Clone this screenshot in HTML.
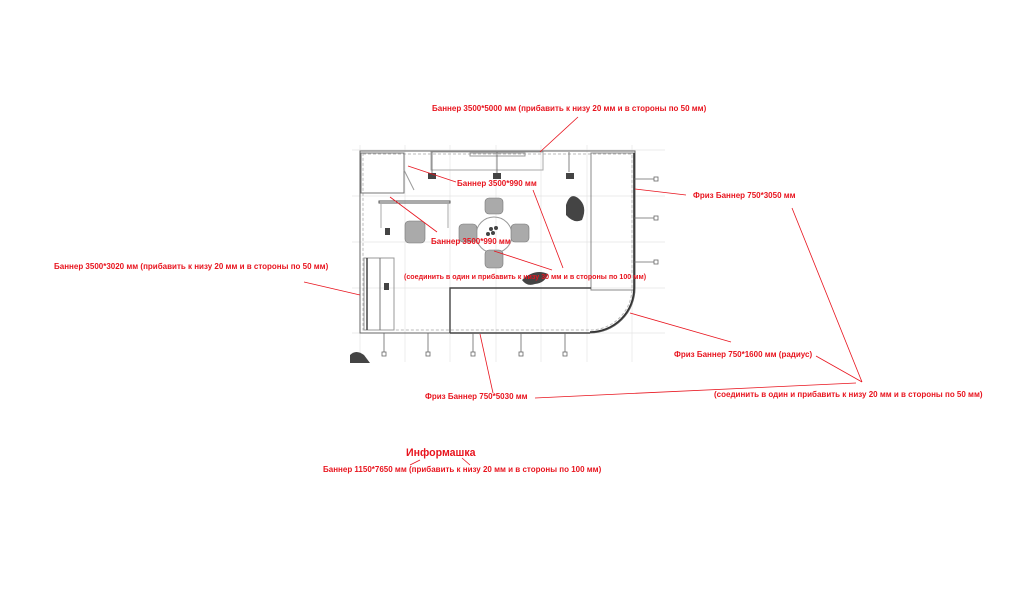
<!DOCTYPE html>
<html><head><meta charset="utf-8"><style>
html,body{margin:0;padding:0;background:#fff;width:1024px;height:614px;overflow:hidden}
svg{display:block}
.t{font-family:"Liberation Sans","DejaVu Sans",sans-serif;font-weight:bold;font-size:8px;fill:#e8141e}
</style></head><body>
<svg width="1024" height="614" viewBox="0 0 1024 614" xmlns="http://www.w3.org/2000/svg">
<g stroke="#e4e4e4" stroke-width="0.7">
<line x1="352" y1="150" x2="665" y2="150"/><line x1="352" y1="196" x2="665" y2="196"/>
<line x1="352" y1="242" x2="665" y2="242"/><line x1="352" y1="288" x2="665" y2="288"/>
<line x1="352" y1="333" x2="665" y2="333"/>
<line x1="360" y1="145" x2="360" y2="362"/><line x1="405" y1="145" x2="405" y2="362"/>
<line x1="450" y1="145" x2="450" y2="362"/><line x1="496" y1="145" x2="496" y2="362"/>
<line x1="541" y1="145" x2="541" y2="362"/><line x1="587" y1="145" x2="587" y2="362"/>
<line x1="632" y1="145" x2="632" y2="362"/>
</g>
<g fill="none" stroke="#555" stroke-width="1">
<path d="M360 151 H635 V288 A45 45 0 0 1 590 333 H360 Z" stroke="#666"/>
<path d="M363 154 H632 V288 A42 42 0 0 1 590 330 H363 Z" stroke="#bbb" stroke-dasharray="3,2"/>
<rect x="591" y="153" width="43" height="137" stroke="#888"/>
<path d="M450 333 V288 H591" stroke="#444" stroke-width="1.4"/>
<path d="M450 333 H590" stroke="#444" stroke-width="1.6"/>
<path d="M634 153 V288 A44 44 0 0 1 590 332" stroke="#333" stroke-width="1.6"/>
<rect x="361" y="153" width="43" height="40" stroke="#777"/>
<path d="M404 170 L414 190" stroke="#999"/>
<rect x="431" y="152" width="112" height="18" stroke="#aaa"/>
<rect x="470" y="153" width="55" height="3" stroke="#999"/>
<rect x="379" y="201" width="71" height="2" stroke="#555"/>
<line x1="381" y1="200" x2="381" y2="228" stroke="#aaa"/><line x1="448" y1="200" x2="448" y2="228" stroke="#aaa"/>
<rect x="364" y="258" width="30" height="72" stroke="#999"/>
<line x1="367" y1="258" x2="367" y2="330" stroke="#444" stroke-width="1.5"/>
<line x1="380" y1="258" x2="380" y2="330" stroke="#777"/>
<circle cx="494" cy="235" r="18" stroke="#999"/>
</g>
<g stroke="#666" stroke-width="0.8" fill="#fff">
<line x1="432" y1="152" x2="432" y2="175"/><line x1="497" y1="152" x2="497" y2="175"/><line x1="569" y1="152" x2="569" y2="172"/>
<line x1="634" y1="179" x2="655" y2="179"/><rect x="654" y="177" width="4" height="4"/>
<line x1="634" y1="218" x2="655" y2="218"/><rect x="654" y="216" width="4" height="4"/>
<line x1="634" y1="262" x2="655" y2="262"/><rect x="654" y="260" width="4" height="4"/>
<line x1="384" y1="333" x2="384" y2="353"/><rect x="382" y="352" width="4" height="4"/>
<line x1="428" y1="333" x2="428" y2="353"/><rect x="426" y="352" width="4" height="4"/>
<line x1="473" y1="333" x2="473" y2="353"/><rect x="471" y="352" width="4" height="4"/>
<line x1="521" y1="333" x2="521" y2="353"/><rect x="519" y="352" width="4" height="4"/>
<line x1="565" y1="333" x2="565" y2="353"/><rect x="563" y="352" width="4" height="4"/>
</g>
<g fill="#444">
<rect x="428" y="173" width="8" height="6"/><rect x="493" y="173" width="8" height="6"/><rect x="566" y="173" width="8" height="6"/>
<rect x="385" y="228" width="5" height="7"/><rect x="384" y="283" width="5" height="7"/>
<path d="M566 205 Q570 192 578 198 Q588 206 582 220 Q574 224 566 215 Z"/>
<path d="M522 280 Q535 268 548 274 Q545 283 535 284 Q527 287 522 280 Z"/>
<path d="M350 363 V355 Q356 349 364 355 L370 363 Z"/>
</g>
<g fill="#aaa" stroke="#777" stroke-width="0.6">
<rect x="405" y="221" width="20" height="22" rx="4"/>
<rect x="485" y="198" width="18" height="16" rx="4"/><rect x="485" y="250" width="18" height="18" rx="4"/>
<rect x="459" y="224" width="18" height="18" rx="4"/><rect x="511" y="224" width="18" height="18" rx="4"/>
</g>
<g fill="#444"><circle cx="491" cy="229" r="2"/><circle cx="496" cy="228" r="2"/><circle cx="493" cy="233" r="2"/><circle cx="488" cy="234" r="2"/></g>
<g stroke="#e8141e" stroke-width="0.8" fill="none">
<line x1="578" y1="117" x2="540" y2="152"/>
<line x1="456" y1="182" x2="408" y2="166"/>
<line x1="437" y1="232" x2="390" y2="197"/>
<line x1="563" y1="268" x2="533" y2="190"/>
<line x1="552" y1="270" x2="494" y2="251"/>
<line x1="304" y1="282" x2="360" y2="295"/>
<line x1="686" y1="195" x2="635" y2="189"/>
<line x1="731" y1="342" x2="630" y2="313"/>
<line x1="493" y1="393" x2="480" y2="334"/>
<line x1="862" y1="382" x2="792" y2="208"/>
<line x1="862" y1="382" x2="816" y2="356"/>
<line x1="856" y1="383" x2="535" y2="398"/>
<line x1="420" y1="460" x2="410" y2="465"/>
<line x1="462" y1="458" x2="470" y2="465"/>
</g>
<text class="t" x="432" y="111">Баннер  3500*5000 мм (прибавить к низу 20 мм и в стороны по 50 мм)</text>
<text class="t" x="457" y="186">Баннер 3500*990 мм</text>
<text class="t" x="431" y="244">Баннер 3500*990 мм</text>
<text class="t" x="404" y="279" style="font-size:7.1px">(соединить в один и прибавить к низу 30 мм и в стороны по 100 мм)</text>
<text class="t" x="54" y="269">Баннер  3500*3020 мм (прибавить к низу 20 мм и в стороны по 50 мм)</text>
<text class="t" x="693" y="198">Фриз  Баннер 750*3050 мм</text>
<text class="t" x="674" y="357">Фриз  Баннер 750*1600 мм (радиус)</text>
<text class="t" x="425" y="399">Фриз Баннер  750*5030 мм</text>
<text class="t" x="714" y="397">(соединить в один и прибавить к низу 20 мм и в стороны по 50 мм)</text>
<text class="t" x="406" y="456" style="font-size:10.6px">Информашка</text>
<text class="t" x="323" y="472">Баннер  1150*7650 мм (прибавить к низу 20 мм и в стороны по 100 мм)</text>
</svg>
</body></html>
